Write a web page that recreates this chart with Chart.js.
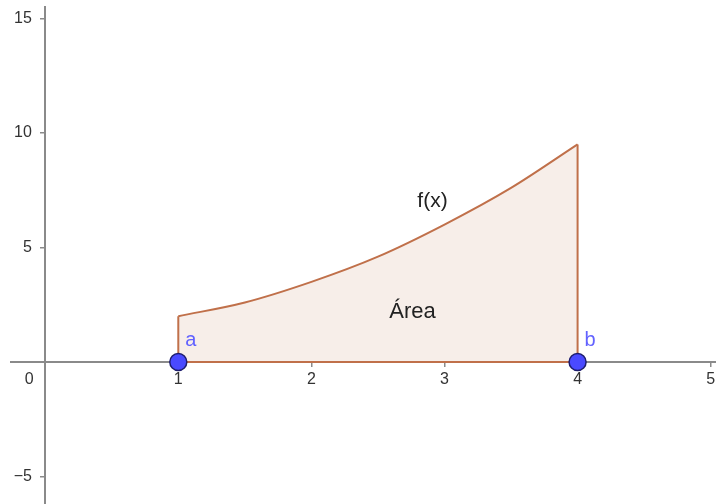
<!DOCTYPE html>
<html>
<head>
<meta charset="utf-8">
<script src="https://cdn.jsdelivr.net/npm/chart.js@4"></script>
<style>
html,body{margin:0;padding:0;background:#fff;}
#wrap{width:716px;height:504px;}
</style>
</head>
<body>
<div id="wrap"><canvas id="c" width="716" height="504"></canvas></div>
<script>
// values
const curveX = [1, 1.5, 2, 2.5, 3, 3.5, 4];
const curveY = [2, 2.6, 3.5, 4.6, 6, 7.6, 9.5];
const boundsX = [1, 4];          // a, b
const xTickValues = [1, 2, 3, 4, 5];
const yTickValues = [-5, 5, 10, 15];
const pointLabels = ['a', 'b'];

const curveData = curveX.map((x, i) => ({x, y: curveY[i]}));
const outlineData = [
  {x: boundsX[0], y: curveY[0]}, {x: boundsX[0], y: 0},
  {x: boundsX[1], y: 0}, {x: boundsX[1], y: curveY[curveY.length - 1]}
];
const pointData = boundsX.map(x => ({x, y: 0}));

const AXIS = '#8a8a8a';
const BROWN = '#c0704a';
const FONT = '"Liberation Sans", Arial, sans-serif';

const noPad = s => { s.paddingLeft = 0; s.paddingRight = 0; s.paddingTop = 0; s.paddingBottom = 0; };

const textPlugin = {
  id: 'texts',
  afterDatasetsDraw(chart) {
    const {ctx, scales: {x, y}} = chart;
    ctx.save();
    ctx.font = '16px ' + FONT;
    ctx.fillStyle = '#333';
    ctx.textAlign = 'center';
    ctx.textBaseline = 'middle';
    ctx.fillText('0', x.getPixelForValue(0) - 16, y.getPixelForValue(0) + 18);
    ctx.font = '21px ' + FONT;
    ctx.fillStyle = '#222';
    ctx.fillText('f(x)', x.getPixelForValue(2.91), y.getPixelForValue(7.0));
    ctx.font = '22px ' + FONT;
    ctx.fillText('Área', x.getPixelForValue(2.76), y.getPixelForValue(2.2));
    ctx.font = '20px ' + FONT;
    ctx.fillStyle = '#6262ff';
    ctx.textAlign = 'left';
    pointLabels.forEach((t, i) => {
      ctx.fillText(t, x.getPixelForValue(boundsX[i]) + 7, y.getPixelForValue(0) - 22);
    });
    ctx.restore();
  }
};

new Chart(document.getElementById('c'), {
  type: 'scatter',
  data: {
    datasets: [
      {
        data: pointData,
        pointRadius: 8.5,
        pointBackgroundColor: '#4a4aff',
        pointBorderColor: '#1e1e6e',
        pointBorderWidth: 1.5,
        showLine: false,
        clip: false,
        order: 0
      },
      {
        data: outlineData,
        showLine: true,
        borderColor: BROWN,
        borderWidth: 2,
        pointRadius: 0,
        fill: false,
        tension: 0,
        order: 1
      },
      {
        data: curveData,
        showLine: true,
        borderColor: BROWN,
        borderWidth: 2,
        backgroundColor: 'rgba(192,112,74,0.12)',
        fill: 'origin',
        pointRadius: 0,
        cubicInterpolationMode: 'monotone',
        order: 2
      }
    ]
  },
  options: {
    responsive: false,
    animation: false,
    events: [],
    layout: {autoPadding: false, padding: {left: 11, top: 7, right: 0, bottom: 0}},
    plugins: {legend: {display: false}, tooltip: {enabled: false}},
    scales: {
      x: {
        type: 'linear',
        position: {y: 0},
        min: -0.257,
        max: 5.04,
        afterBuildTicks: a => { a.ticks = xTickValues.map(v => ({value: v})); },
        afterFit: noPad,
        ticks: {color: '#333', font: {size: 16, family: FONT}, padding: 4, maxRotation: 0, autoSkip: false},
        grid: {display: true, drawOnChartArea: false, drawTicks: true, tickLength: 4, color: AXIS, lineWidth: 1.5},
        border: {display: true, color: AXIS, width: 2}
      },
      y: {
        type: 'linear',
        position: {x: 0},
        min: -6.2,
        max: 15.5,
        afterBuildTicks: a => { a.ticks = yTickValues.map(v => ({value: v})); },
        afterFit: noPad,
        ticks: {color: '#333', font: {size: 16, family: FONT}, autoSkip: false,
                callback: v => (v < 0 ? '\u2212' + Math.abs(v) : String(v)) + '   '},
        grid: {display: true, drawOnChartArea: false, drawTicks: true, tickLength: 4, color: AXIS, lineWidth: 1.5},
        border: {display: true, color: AXIS, width: 2}
      }
    }
  },
  plugins: [textPlugin]
});
</script>
</body>
</html>
